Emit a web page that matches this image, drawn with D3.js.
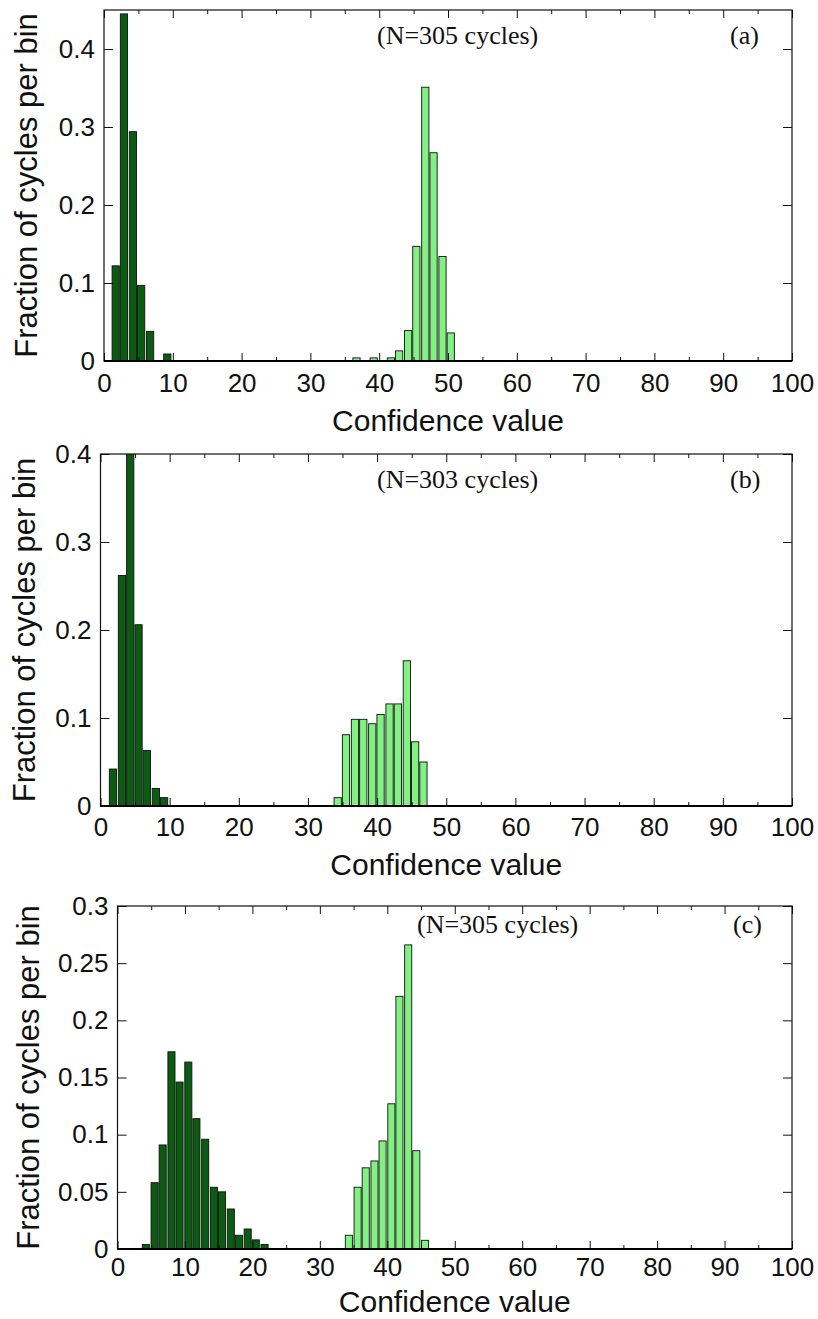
<!DOCTYPE html>
<html><head><meta charset="utf-8">
<script src="https://cdn.jsdelivr.net/npm/d3@7"></script>
<style>body{margin:0;background:#fff}</style>
</head><body>
<svg id="chart" width="818" height="1319"></svg>
<script>
// ---------- data ----------
const xTickValues = [0, 10, 20, 30, 40, 50, 60, 70, 80, 90, 100];
const xMinorTicks = [5, 15, 25, 35, 45, 55, 65, 75, 85, 95];
const xAxisTitle = "Confidence value";
const yAxisTitle = "Fraction of cycles per bin";

// panel (a)
const aYTicks = [0, 0.1, 0.2, 0.3, 0.4];
const aDarkBins = [1.7, 2.9, 4.2, 5.4, 6.7, 9.2];
const aDarkValues = [0.122, 0.445, 0.294, 0.097, 0.038, 0.009];
const aLightBins = [36.7, 39.2, 41.7, 42.9, 44.2, 45.4, 46.7, 47.9, 49.2, 50.4];
const aLightValues = [0.004, 0.004, 0.004, 0.013, 0.039, 0.147, 0.351, 0.267, 0.134, 0.036];
const aNote = "(N=305 cycles)", aTag = "(a)";

// panel (b)
const bYTicks = [0, 0.1, 0.2, 0.3, 0.4];
const bDarkBins = [1.8, 3.1, 4.3, 5.5, 6.7, 8.0, 9.2];
const bDarkValues = [0.042, 0.262, 0.405, 0.206, 0.063, 0.020, 0.0095];
const bLightBins = [34.3, 35.5, 36.8, 38.0, 39.3, 40.5, 41.8, 43.0, 44.3, 45.5, 46.7];
const bLightValues = [0.0095, 0.081, 0.0985, 0.0985, 0.0935, 0.104, 0.116, 0.116, 0.165, 0.073, 0.050];
const bNote = "(N=303 cycles)", bTag = "(b)";

// panel (c)
const cYTicks = [0, 0.05, 0.1, 0.15, 0.2, 0.25, 0.3];
const cDarkBins = [4.2, 5.5, 6.7, 8.0, 9.2, 10.5, 11.7, 13.0, 14.3, 15.5, 16.8, 18.0, 19.3, 20.5, 21.8];
const cDarkValues = [0.004, 0.058, 0.091, 0.1725, 0.146, 0.1635, 0.114, 0.096, 0.054, 0.050, 0.035, 0.012, 0.0175, 0.008, 0.004];
const cLightBins = [34.3, 35.6, 36.8, 38.1, 39.3, 40.6, 41.8, 43.1, 44.3, 45.6];
const cLightValues = [0.012, 0.054, 0.071, 0.077, 0.0945, 0.127, 0.221, 0.266, 0.086, 0.0076];
const cNote = "(N=305 cycles)", cTag = "(c)";

// ---------- drawing ----------
const SANS = "'Liberation Sans', Arial, Helvetica, sans-serif";
const SERIF = "'Liberation Serif', 'Times New Roman', serif";
const DARK = "#0b5c12", LIGHT = "#82f082";
const BAR_W = 1.05;
const svg = d3.select("#chart");

const yFmt = d => d === 0 ? "0" : String(+d.toFixed(2));

function drawPanel(o, idx) {
  const g = svg.append("g");
  const x = d3.scaleLinear().domain([0, 100]).range([o.left, o.right]);
  const y = d3.scaleLinear().domain([0, o.ymax]).range([o.bottom, o.top]);

  const clipId = "clip" + idx;
  svg.append("clipPath").attr("id", clipId).append("rect")
    .attr("x", o.left).attr("y", o.top).attr("width", o.right - o.left).attr("height", o.bottom - o.top);

  o.series.forEach(s => {
    g.append("g").attr("clip-path", `url(#${clipId})`)
      .selectAll("rect").data(d3.zip(s.bins, s.values)).join("rect")
      .attr("x", d => x(d[0] - BAR_W / 2))
      .attr("width", d => x(d[0] + BAR_W / 2) - x(d[0] - BAR_W / 2))
      .attr("y", d => y(d[1]))
      .attr("height", d => y(0) - y(d[1]))
      .attr("fill", s.color).attr("stroke", "#111").attr("stroke-width", 0.9);
  });

  const styleAxis = sel => {
    sel.select(".domain").remove();
    sel.selectAll("line").attr("stroke", "#111").attr("stroke-width", 1);
    sel.attr("font-family", SANS).attr("font-size", 26).selectAll("text").attr("fill", "#111");
  };

  g.append("g").attr("transform", `translate(0,${o.bottom})`)
    .call(d3.axisBottom(x).tickValues(xTickValues).tickSizeInner(-8).tickSizeOuter(0).tickPadding(o.xPad).tickFormat(d3.format("d")))
    .call(styleAxis);
  g.append("g").attr("transform", `translate(0,${o.bottom})`)
    .call(d3.axisBottom(x).tickValues(xMinorTicks).tickSizeInner(-4).tickSizeOuter(0).tickFormat(""))
    .call(styleAxis);
  g.append("g").attr("transform", `translate(0,${o.top})`)
    .call(d3.axisTop(x).tickValues(xTickValues).tickSizeInner(-8).tickSizeOuter(0).tickFormat(""))
    .call(styleAxis);
  g.append("g").attr("transform", `translate(0,${o.top})`)
    .call(d3.axisTop(x).tickValues(xMinorTicks).tickSizeInner(-4).tickSizeOuter(0).tickFormat(""))
    .call(styleAxis);
  g.append("g").attr("transform", `translate(${o.left},0)`)
    .call(d3.axisLeft(y).tickValues(o.yticks).tickSizeInner(-9).tickSizeOuter(0).tickPadding(9).tickFormat(yFmt))
    .call(styleAxis);
  g.append("g").attr("transform", `translate(${o.right},0)`)
    .call(d3.axisRight(y).tickValues(o.yticks).tickSizeInner(-9).tickSizeOuter(0).tickFormat(""))
    .call(styleAxis);

  // frame
  g.append("rect").attr("x", o.left).attr("y", o.top)
    .attr("width", o.right - o.left).attr("height", o.bottom - o.top)
    .attr("fill", "none").attr("stroke", "#111").attr("stroke-width", 1.2);
  g.append("line").attr("x1", o.left).attr("x2", o.right).attr("y1", y(0)).attr("y2", y(0))
    .attr("stroke", "#000").attr("stroke-width", 2);

  // titles
  g.append("text").attr("x", (o.left + o.right) / 2).attr("y", o.bottom + o.xTitleDy)
    .attr("text-anchor", "middle").attr("font-family", SANS).attr("font-size", 30).attr("fill", "#111")
    .text(xAxisTitle);
  g.append("text").attr("transform", `translate(${o.yTitleX},${(o.top + o.bottom) / 2}) rotate(-90)`)
    .attr("text-anchor", "middle").attr("font-family", SANS).attr("font-size", 31).attr("fill", "#111")
    .text(yAxisTitle);

  // annotations
  g.append("text").attr("x", o.noteX).attr("y", o.top + o.noteDy)
    .attr("font-family", SERIF).attr("font-size", 26).attr("fill", "#111").text(o.note);
  g.append("text").attr("x", o.tagX).attr("y", o.top + o.noteDy)
    .attr("font-family", SERIF).attr("font-size", 26).attr("fill", "#111").text(o.tag);
}

const panels = [
  { left: 104, right: 792, top: 10, bottom: 361, ymax: 0.45, yticks: aYTicks,
    series: [{ bins: aDarkBins, values: aDarkValues, color: DARK }, { bins: aLightBins, values: aLightValues, color: LIGHT }],
    note: aNote, tag: aTag, noteX: 377, tagX: 730, noteDy: 34, xPad: 13, xTitleDy: 70, yTitleX: 37 },
  { left: 100.5, right: 792, top: 454, bottom: 806, ymax: 0.4, yticks: bYTicks,
    series: [{ bins: bDarkBins, values: bDarkValues, color: DARK }, { bins: bLightBins, values: bLightValues, color: LIGHT }],
    note: bNote, tag: bTag, noteX: 377, tagX: 730, noteDy: 34, xPad: 12, xTitleDy: 69, yTitleX: 35 },
  { left: 117.5, right: 792, top: 906, bottom: 1249, ymax: 0.3, yticks: cYTicks,
    series: [{ bins: cDarkBins, values: cDarkValues, color: DARK }, { bins: cLightBins, values: cLightValues, color: LIGHT }],
    note: cNote, tag: cTag, noteX: 417, tagX: 733, noteDy: 27, xPad: 9, xTitleDy: 63, yTitleX: 39 }
];
panels.forEach(drawPanel);
</script>
</body></html>
